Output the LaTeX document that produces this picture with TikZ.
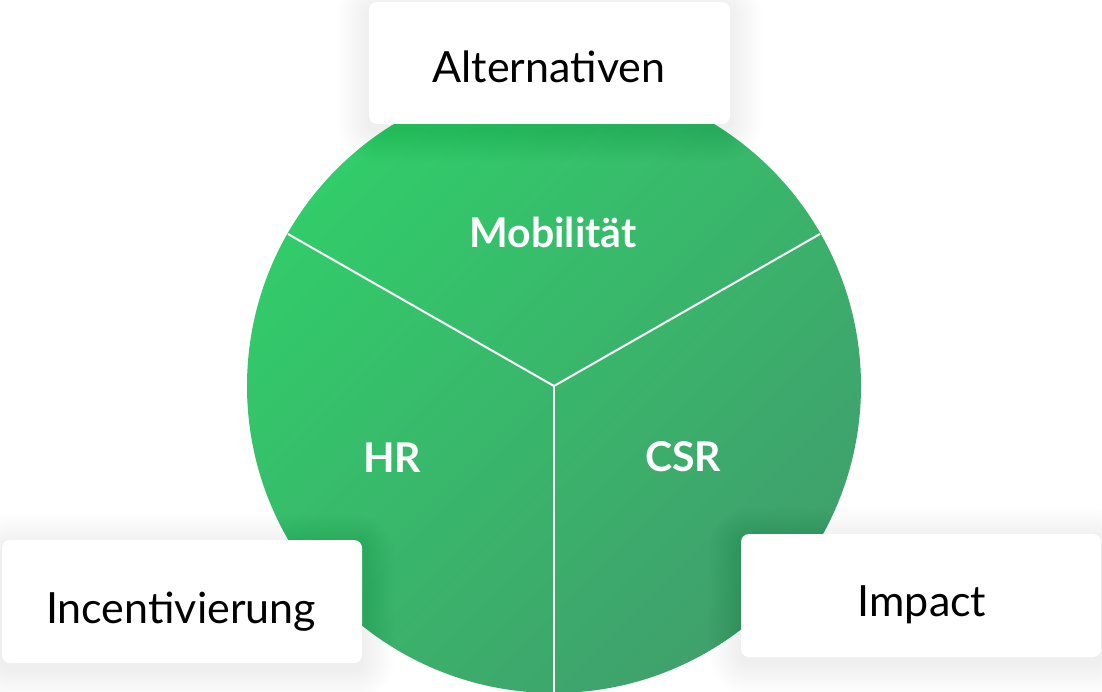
\documentclass[tikz,border=0pt]{standalone}
\usepackage{fontspec}
\setmainfont{Lato}
\definecolor{glight}{RGB}{50,204,106}
\definecolor{gdark}{RGB}{64,160,108}
\begin{document}
\begin{tikzpicture}[x=1pt,y=-1pt,
  cardtext/.style={font=\fontsize{43}{43}\selectfont, text=black, anchor=base, inner sep=0pt},
  segtext/.style={font=\bfseries\fontsize{41}{41}\selectfont, text=white, anchor=base, inner sep=0pt},
  card/.style={fill=white, rounded corners=8pt, draw=none},
  softshade/.style={fill=black, opacity=0.0045},
  divider/.style={draw=white, line width=2pt}]
\useasboundingbox (0,0) rectangle (1102,692);
\fill[white] (0,0) rectangle (1102,692);
\begin{scope}
\clip (0,0) rectangle (1102,692);
% circle
\coordinate (c) at (554,386);
\coordinate (pl) at (288,234);
\coordinate (pr) at (820,234);
\coordinate (pb) at (554,700);
\shade[top color=glight, bottom color=gdark, shading angle=45] (c) circle (307);
\draw[divider] (c) -- (pl);
\draw[divider] (c) -- (pr);
\draw[divider] (c) -- (pb);
\node[segtext] (mob) at (553,248) {Mobilität};
\node[segtext] (hr) at (392,472) {HR};
\node[segtext] (csr) at (683,471) {CSR};
% shadows
\foreach \r in {1,...,16}{
  \fill[softshade, rounded corners={8pt+\r*2pt}]
    (369-\r*2, 8-\r*2) rectangle (730+\r*2, 130+\r*2);
  \fill[softshade, rounded corners={8pt+\r*2pt}]
    (2-\r*2, 546-\r*2) rectangle (362+\r*2, 669+\r*2);
  \fill[softshade, rounded corners={8pt+\r*2pt}]
    (741-\r*2, 540-\r*2) rectangle (1101+\r*2, 663+\r*2);
}
% cards
\fill[card] (369,2) rectangle (730,124);
\fill[card] (2,540) rectangle (362,663);
\fill[card] (741,534) rectangle (1101,657);
\node[cardtext] (alt) at (549,83) {Alternativen};
\node[cardtext] (inc) at (181,623) {Incentivierung};
\node[cardtext] (imp) at (922,616) {Impact};
\end{scope}
\end{tikzpicture}
\end{document}
